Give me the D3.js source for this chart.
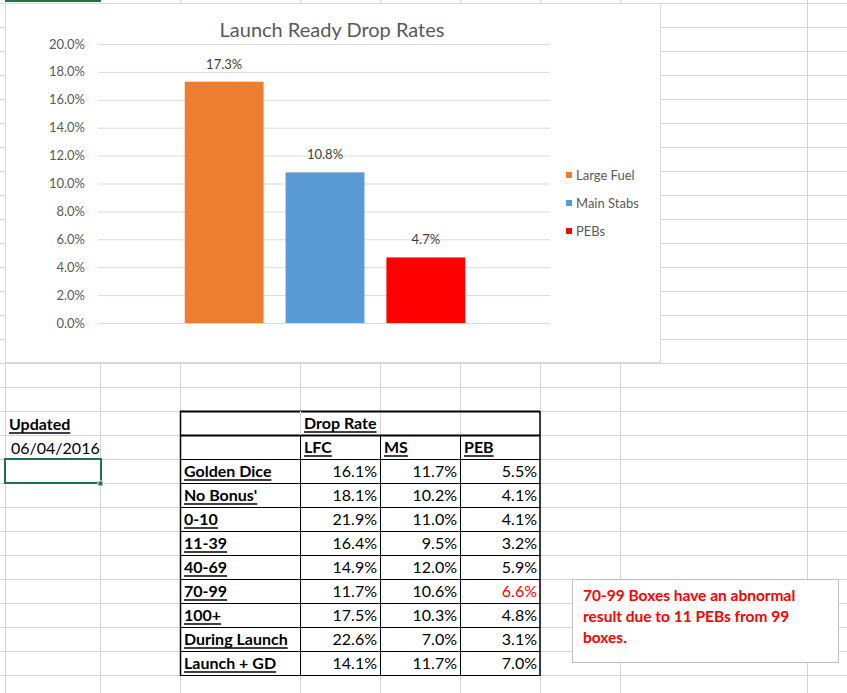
<!DOCTYPE html><html><head><meta charset="utf-8">
<script src="https://cdn.jsdelivr.net/npm/d3@7"></script>
<style>body{margin:0;background:#fff}svg{display:block}</style></head><body>
<svg id="s" width="847" height="693"></svg>
<script>
const series=["Large Fuel","Main Stabs","PEBs"];
const chartValues=[17.3,10.8,4.7];
const colors=["#ED7D31","#5B9BD5","#FF0000"];
const yTicks=[0,2,4,6,8,10,12,14,16,18,20];
const rowLabels=["Golden Dice","No Bonus'","0-10","11-39","40-69","70-99","100+","During Launch","Launch + GD"];
const lfc=[16.1,18.1,21.9,16.4,14.9,11.7,17.5,22.6,14.1];
const ms=[11.7,10.2,11.0,9.5,12.0,10.6,10.3,7.0,11.7];
const peb=[5.5,4.1,4.1,3.2,5.9,6.6,4.8,3.1,7.0];

const svg=d3.select("#s");
const F="Lato, 'Open Sans', sans-serif";
const colX=[5,100,180,300,380,460,540,620,807];
const rowY=d3.range(3,693,24);
const g=svg.append("g").attr("stroke","#d4d4d4").attr("stroke-width",1);
colX.forEach(x=>g.append("line").attr("x1",x+.5).attr("x2",x+.5).attr("y1",0).attr("y2",693));
rowY.forEach(y=>g.append("line").attr("x1",0).attr("x2",847).attr("y1",y+.5).attr("y2",y+.5));
svg.append("rect").attr("x",5).attr("y",0).attr("width",96).attr("height",2).attr("fill","#217346");

svg.append("rect").attr("x",5.5).attr("y",3.5).attr("width",655).attr("height",359).attr("fill","#fff").attr("stroke","#d9d9d9");
svg.append("text").attr("x",332).attr("y",37).attr("text-anchor","middle").attr("font-family",F).attr("font-size",20).attr("fill","#595959").text("Launch Ready Drop Rates");
const y=d3.scaleLinear().domain([0,20]).range([323,44]);
const x=d3.scaleBand().domain(series).range([98,552]).paddingInner(0.218).paddingOuter(0.86);
svg.append("g").selectAll("line").data(yTicks).join("line").attr("x1",98).attr("x2",550).attr("y1",d=>y(d)+.5).attr("y2",d=>y(d)+.5).attr("stroke","#d9d9d9");
svg.append("g").selectAll("text").data(yTicks).join("text").attr("x",85).attr("y",d=>y(d)+4.5).attr("text-anchor","end").attr("font-family",F).attr("font-size",13).attr("fill","#595959").text(d=>d.toFixed(1)+"%");
svg.append("g").selectAll("rect").data(chartValues).join("rect").attr("x",(d,i)=>x(series[i])).attr("width",x.bandwidth()).attr("y",d=>y(d)).attr("height",d=>y(0)-y(d)).attr("fill",(d,i)=>colors[i]);
svg.append("g").selectAll("text").data(chartValues).join("text").attr("x",(d,i)=>x(series[i])+x.bandwidth()/2).attr("y",d=>y(d)-13).attr("text-anchor","middle").attr("font-family",F).attr("font-size",13).attr("fill","#404040").text(d=>d.toFixed(1)+"%");
const lg=svg.append("g").selectAll("g").data(series).join("g").attr("transform",(d,i)=>`translate(566,${175+i*28})`);
lg.append("rect").attr("x",0).attr("y",-3).attr("width",6).attr("height",6).attr("fill",(d,i)=>colors[i]);
lg.append("text").attr("x",10).attr("y",4.5).attr("font-family",F).attr("font-size",13).attr("fill","#595959").text(d=>d);

function txt(x0,y0,t,o={}){const e=svg.append("text").attr("x",x0).attr("y",y0).attr("font-family",F).attr("font-size",o.size||16).attr("fill",o.fill||"#000").attr("text-anchor",o.anchor||"start").attr("font-weight",o.bold?"bold":"normal").text(t);
 if(o.u){const w=e.node().getComputedTextLength();svg.append("line").attr("x1",x0).attr("x2",x0+w).attr("y1",y0+3).attr("y2",y0+3).attr("stroke","#000").attr("stroke-width",1.5);}return e;}
svg.append("rect").attr("x",5.5).attr("y",459.5).attr("width",95).attr("height",24).attr("fill","#fff");
txt(9,430,"Updated",{bold:true,u:true});
txt(11,454,"06/04/2016");
svg.append("rect").attr("x",5).attr("y",459).attr("width",96).attr("height",24).attr("fill","none").attr("stroke","#217346").attr("stroke-width",2);
svg.append("rect").attr("x",98).attr("y",481).attr("width",5).attr("height",5).attr("fill","#217346").attr("stroke","#fff");

const T=svg.append("g").attr("stroke","#000");
svg.insert("rect","g").attr("x",180).attr("y",411).attr("width",360).attr("height",264).attr("fill","#fff");
for(let r=0;r<=11;r++){const yy=411+r*24;T.append("line").attr("x1",180).attr("x2",540).attr("y1",yy+.5).attr("y2",yy+.5).attr("stroke-width",(r==0||r==1)?2:1);}
T.append("line").attr("x1",180.5).attr("x2",180.5).attr("y1",411).attr("y2",676).attr("stroke-width",1.5);
T.append("line").attr("x1",540).attr("x2",540).attr("y1",411).attr("y2",676).attr("stroke-width",1.5);
[300,380,460].forEach(xx=>T.append("line").attr("x1",xx+.5).attr("x2",xx+.5).attr("y1",435).attr("y2",676));
T.append("line").attr("x1",300.5).attr("x2",300.5).attr("y1",411).attr("y2",435).attr("stroke","#d4d4d4");
txt(304,429,"Drop Rate",{bold:true,u:true});
txt(304,453,"LFC",{bold:true,u:true});txt(384,453,"MS",{bold:true,u:true});txt(464,453,"PEB",{bold:true,u:true});
rowLabels.forEach((l,i)=>{const yy=477+i*24;
 txt(184,yy,l,{bold:true,u:true});
 txt(377,yy,lfc[i].toFixed(1)+"%",{anchor:"end"});
 txt(457,yy,ms[i].toFixed(1)+"%",{anchor:"end"});
 txt(537,yy,peb[i].toFixed(1)+"%",{anchor:"end",fill:l==="70-99"?"#FF0000":"#000"});
});

svg.append("rect").attr("x",572.5).attr("y",579.5).attr("width",266).attr("height",83).attr("fill","#fff").attr("stroke","#bfbfbf");
["70-99 Boxes have an abnormal","result due to 11 PEBs from 99","boxes."].forEach((t,i)=>txt(583,601+i*21,t,{bold:true,fill:"#FF0000",size:15.5}));
</script></body></html>
